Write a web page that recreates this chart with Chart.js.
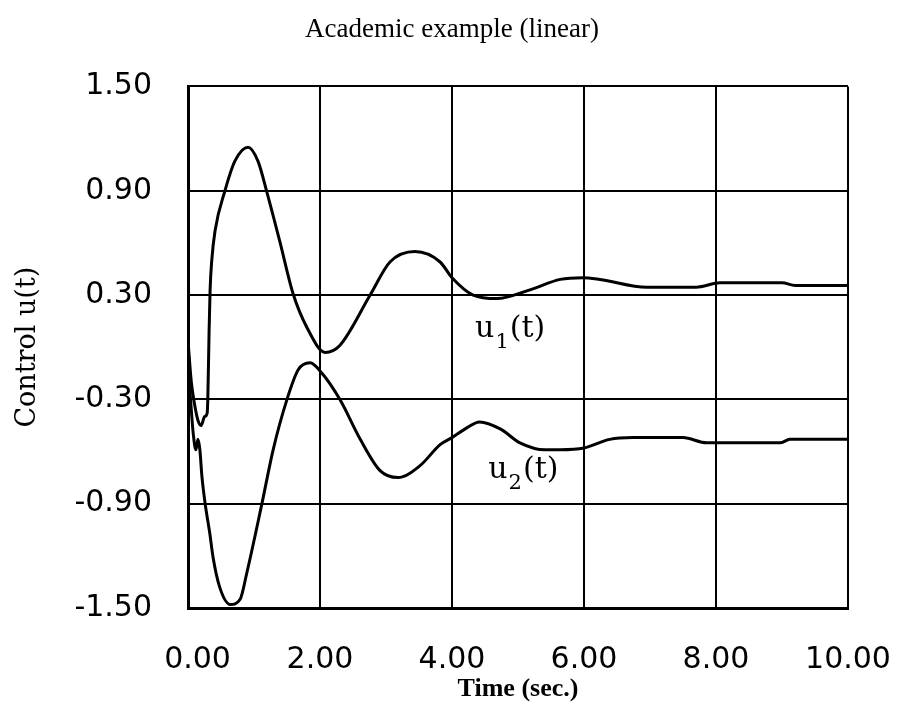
<!DOCTYPE html>
<html>
<head>
<meta charset="utf-8">
<script src="https://cdn.jsdelivr.net/npm/chart.js@4.4.0/dist/chart.umd.min.js"></script>
<style>
  body { margin: 0; background: #fff; }
  canvas { display: block; }
</style>
</head>
<body>
<canvas id="chart" width="904" height="710"></canvas>
<script>
// time in seconds
var tU1 = [0, 0.05, 0.10, 0.15, 0.20, 0.25, 0.29, 0.30, 0.32, 0.335, 0.36, 0.41, 0.56, 0.71, 0.91, 1.06, 1.20, 1.39, 1.59, 1.80, 2.08, 2.30, 2.76, 3.06, 3.44, 3.82, 4.00, 4.32, 4.68, 5.18, 5.64, 5.98, 6.24, 6.95, 7.70, 8.06, 9.00, 9.20, 10];
var u1 = [0.04, -0.20, -0.33, -0.42, -0.45, -0.40, -0.38, -0.30, 0.10, 0.33, 0.50, 0.67, 0.90, 1.07, 1.15, 1.07, 0.885, 0.61, 0.31, 0.115, -0.03, 0.01, 0.30, 0.49, 0.55, 0.49, 0.40, 0.30, 0.28, 0.33, 0.39, 0.40, 0.39, 0.345, 0.345, 0.37, 0.37, 0.355, 0.355];

var tU2 = [0, 0.03, 0.05, 0.08, 0.12, 0.15, 0.18, 0.21, 0.26, 0.33, 0.38, 0.48, 0.64, 0.79, 0.89, 1.12, 1.29, 1.50, 1.67, 1.85, 2.03, 2.30, 2.61, 2.91, 3.18, 3.52, 3.82, 4.00, 4.20, 4.42, 4.73, 5.03, 5.41, 5.64, 6.00, 6.39, 6.74, 7.50, 7.86, 8.97, 9.12, 10];
var u2 = [0.04, -0.25, -0.36, -0.50, -0.59, -0.53, -0.59, -0.74, -0.90, -1.07, -1.21, -1.38, -1.48, -1.45, -1.30, -0.90, -0.59, -0.30, -0.13, -0.09, -0.15, -0.30, -0.53, -0.71, -0.75, -0.68, -0.56, -0.52, -0.47, -0.43, -0.47, -0.55, -0.59, -0.59, -0.58, -0.53, -0.52, -0.52, -0.55, -0.55, -0.53, -0.53];

var xTicks = [0, 2, 4, 6, 8, 10];
var yTicks = [-1.5, -0.9, -0.3, 0.3, 0.9, 1.5];

// curve names, anchored in data units
var curveNames = [
  { name: 'u', sub: '1', t: 4.35, v: 0.06 },
  { name: 'u', sub: '2', t: 4.55, v: -0.75 }
];

function points(ts, vs) {
  return ts.map(function (t, i) { return { x: t, y: vs[i] }; });
}

var curveLabels = {
  id: 'curveLabels',
  afterDatasetsDraw: function (chart) {
    var ctx = chart.ctx;
    var xs = chart.scales.x, ys = chart.scales.y;
    ctx.save();
    ctx.fillStyle = '#000';
    ctx.textAlign = 'left';
    ctx.textBaseline = 'alphabetic';
    curveNames.forEach(function (c) {
      var x = xs.getPixelForValue(c.t);
      var y = ys.getPixelForValue(c.v);
      ctx.font = '30px "DejaVu Serif"';
      ctx.fillText(c.name, x, y);
      x += ctx.measureText(c.name).width + 1;
      ctx.font = '21px "DejaVu Serif"';
      ctx.fillText(c.sub, x, y + 11);
      x += ctx.measureText(c.sub).width + 1;
      ctx.font = '30px "DejaVu Serif"';
      ctx.fillText('(t)', x, y);
    });
    ctx.restore();
  }
};

var ctx = document.getElementById('chart').getContext('2d');
var myChart = new Chart(ctx, {
  type: 'line',
  data: {
    datasets: [{
      label: 'u1(t)',
      data: points(tU1, u1),
      borderColor: '#000',
      borderWidth: 3,
      pointRadius: 0,
      cubicInterpolationMode: 'monotone'
    }, {
      label: 'u2(t)',
      data: points(tU2, u2),
      borderColor: '#000',
      borderWidth: 3,
      pointRadius: 0,
      cubicInterpolationMode: 'monotone'
    }]
  },
  options: {
    responsive: false,
    animation: false,
    devicePixelRatio: 1,
    layout: { padding: 0 },
    plugins: {
      legend: { display: false },
      tooltip: { enabled: false },
      title: {
        display: true,
        text: 'Academic example (linear)',
        color: '#000',
        font: { family: 'Liberation Serif', size: 27, weight: 'normal' },
        padding: { top: 14, bottom: 40 }
      }
    },
    scales: {
      x: {
        type: 'linear',
        min: 0,
        max: 10,
        afterBuildTicks: function (s) { s.ticks = xTicks.map(function (v) { return { value: v }; }); },
        afterFit: function (s) { s.height = 102; s.paddingLeft = 0; s.paddingRight = 56; },
        grid: { color: '#000', lineWidth: 2, drawTicks: false },
        border: { color: '#000', width: 3 },
        ticks: {
          color: '#000',
          padding: 34,
          maxRotation: 0,
          font: { family: 'DejaVu Sans', size: 30 },
          // the first label sits a little right of the axis in the original
          callback: function (v) { return (v === 0 ? '  ' : '') + v.toFixed(2); }
        },
        title: {
          display: true,
          text: 'Time (sec.)',
          color: '#000',
          font: { family: 'Liberation Serif', size: 26, weight: 'bold' },
          padding: { top: 0, bottom: 5 }
        }
      },
      y: {
        type: 'linear',
        min: -1.5,
        max: 1.5,
        afterBuildTicks: function (s) { s.ticks = yTicks.map(function (v) { return { value: v }; }); },
        afterFit: function (s) { s.width = 188; },
        grid: { color: '#000', lineWidth: 2, drawTicks: false },
        border: { color: '#000', width: 3 },
        ticks: {
          color: '#000',
          padding: 36,
          font: { family: 'DejaVu Sans', size: 30 },
          callback: function (v) { return v.toFixed(2); }
        },
        title: {
          display: true,
          text: 'Control u(t)',
          color: '#000',
          font: { family: 'DejaVu Serif', size: 27, weight: 'normal' },
          padding: { top: 12, bottom: 0 }
        }
      }
    }
  },
  plugins: [curveLabels]
});
</script>
</body>
</html>
